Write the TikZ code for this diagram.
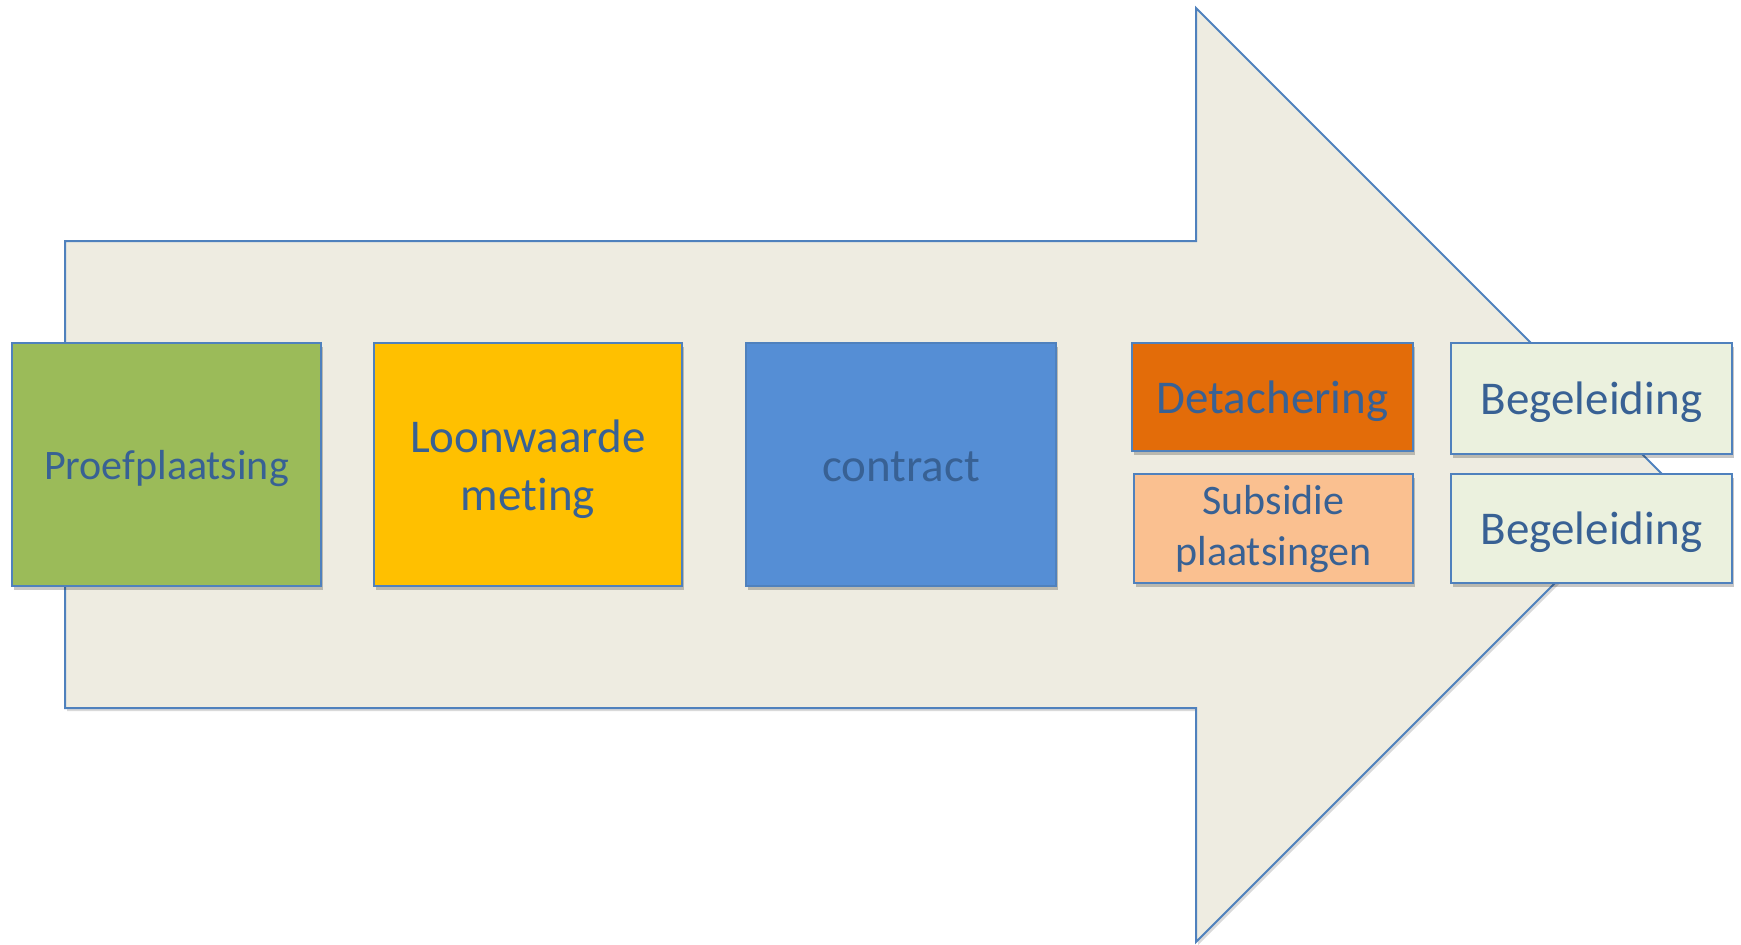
\documentclass[tikz,border=0pt]{standalone}
\usepackage{fontspec}
\setmainfont{Carlito}[Ligatures=NoCommon]
\usetikzlibrary{shadows,fit}
\definecolor{arrowfill}{RGB}{238,236,225}
\definecolor{edgeblue}{RGB}{79,129,189}
\definecolor{txtblue}{RGB}{56,97,148}
\definecolor{cgreen}{RGB}{155,187,89}
\definecolor{cyellow}{RGB}{255,192,0}
\definecolor{cblue}{RGB}{85,142,213}
\definecolor{corange}{RGB}{227,108,9}
\definecolor{cpeach}{RGB}{250,192,144}
\definecolor{cpale}{RGB}{235,241,222}
\begin{document}
\begin{tikzpicture}[x=0.5pt,y=-0.5pt,
  softshadow/.style={drop shadow={shadow xshift=1.2pt, shadow yshift=-1.8pt, opacity=0.22, fill=black}},
  box/.style={draw=edgeblue, line width=1pt, inner sep=0pt, softshadow},
  lbl/.style={inner sep=0pt, text=txtblue, anchor=base},
  big/.style={lbl, font=\fontsize{23.5pt}{28pt}\selectfont},
  small/.style={lbl, font=\fontsize{21pt}{25pt}\selectfont}]
\useasboundingbox (0,0) rectangle (1741,944);
% big arrow
\draw[draw=edgeblue, line width=1pt, fill=arrowfill, line join=miter,
      drop shadow={shadow xshift=1pt, shadow yshift=-1.5pt, opacity=0.15, fill=black}]
  (65,241) -- (1196,241) -- (1196,8) -- (1663,475) -- (1196,942) -- (1196,708) -- (65,708) -- cycle;
% boxes
\node[box, fill=cgreen,  fit={(12,343)(321,586)}]   (proef) {};
\node[box, fill=cyellow, fit={(374,343)(682,586)}]  (loon) {};
\node[box, fill=cblue,   fit={(746,343)(1056,586)}] (contr) {};
\node[box, fill=corange, fit={(1132,343)(1413,451)}] (detach) {};
\node[box, fill=cpeach,  fit={(1134,474)(1413,583)}] (subs) {};
\node[box, fill=cpale,   fit={(1451,343)(1732,454)}] (beg1) {};
\node[box, fill=cpale,   fit={(1451,474)(1732,583)}] (beg2) {};
% texts
\node[small] (tproef) at (166.5,479) {Proefplaatsing};
\node[big] (tloon1) at (528,452) {Loonwaarde};
\node[big] (tloon2) at (528,510) {met\kern0pt ing};
\node[big] (tcontr) at (901,481) {contract};
\node[big] (tdetach) at (1272.5,413) {Detachering};
\node[small] (tsubs1) at (1273.5,514) {Subsidie};
\node[small] (tsubs2) at (1273.5,565) {plaatsingen};
\node[big] (tbeg1) at (1591.5,414) {Begeleiding};
\node[big] (tbeg2) at (1591.5,544) {Begeleiding};
\end{tikzpicture}
\end{document}
